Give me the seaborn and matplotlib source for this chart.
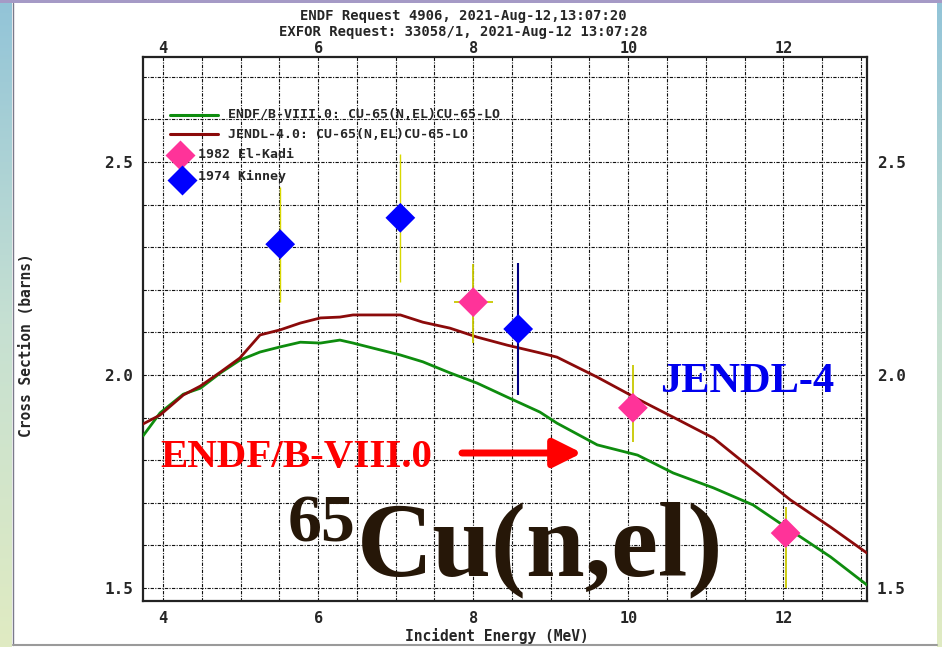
import numpy as np
import pandas as pd
import matplotlib
matplotlib.use("Agg")
import matplotlib.pyplot as plt
import seaborn as sns
from matplotlib.lines import Line2D
from matplotlib.patches import Rectangle
import matplotlib.ticker as mticker

# ---------------- data ----------------
endf_energy = [3.74, 3.96, 4.26, 4.48, 4.74, 4.99, 5.25, 5.51, 5.77, 6.03, 6.28, 6.45, 6.71, 7.06,
               7.35, 7.70, 8.05, 8.44, 8.86, 9.08, 9.60, 10.12, 10.58, 11.10, 11.61, 12.09, 12.61, 13.08]
endf_xs = [1.857, 1.911, 1.955, 1.969, 2.005, 2.035, 2.054, 2.066, 2.077, 2.075, 2.082, 2.075, 2.063, 2.047,
           2.031, 2.005, 1.981, 1.948, 1.913, 1.887, 1.836, 1.812, 1.770, 1.735, 1.695, 1.636, 1.573, 1.507]

jendl_energy = [3.74, 3.96, 4.26, 4.48, 4.74, 4.99, 5.25, 5.51, 5.77, 6.03, 6.28, 6.45, 6.71, 7.06,
                7.35, 7.70, 8.05, 8.44, 8.86, 9.08, 9.60, 10.15, 10.58, 11.10, 11.61, 12.09, 12.61, 13.08]
jendl_xs = [1.885, 1.906, 1.953, 1.974, 2.007, 2.040, 2.094, 2.106, 2.122, 2.134, 2.136, 2.141, 2.141, 2.141,
            2.124, 2.110, 2.089, 2.070, 2.052, 2.042, 1.995, 1.941, 1.901, 1.852, 1.777, 1.707, 1.643, 1.582]

elkadi_energy = [8.00, 10.06, 12.03]
elkadi_xs = [2.171, 1.923, 1.629]
elkadi_err_lo = [0.095, 0.080, 0.130]
elkadi_err_hi = [0.090, 0.100, 0.060]
elkadi_xerr = [0.25, 0.0, 0.0]

kinney_energy = [5.51, 7.06, 8.58]
kinney_xs = [2.307, 2.369, 2.108]
kinney_err = [0.135, 0.150, 0.156]
kinney_err_colors = ["#d8d800", "#d8d800", "#000080"]

x_ticks = [4, 6, 8, 10, 12]
x_tick_labels = ["4", "6", "8", "10", "12"]
y_ticks = [1.5, 2.0, 2.5]
y_tick_labels = ["1.5", "2.0", "2.5"]

series_labels = ["ENDF/B-VIII.0: CU-65(N,EL)CU-65-LO", "JENDL-4.0: CU-65(N,EL)CU-65-LO",
                 "1982 El-Kadi", "1974 Kinney"]
title_lines = ["ENDF Request 4906, 2021-Aug-12,13:07:20", "EXFOR Request: 33058/1, 2021-Aug-12 13:07:28"]

# ---------------- style ----------------
sns.set_style("white")
plt.rcParams["font.family"] = ["DejaVu Sans Mono", "DejaVu Sans"]

W, H = 942, 647
fig = plt.figure(figsize=(W / 100, H / 100), dpi=100)
fig.patch.set_facecolor("white")

def fx(px):
    return px / W

def fy(py):
    return 1 - py / H

# slide-like background decoration
bg = fig.add_axes([0, 0, 1, 1], zorder=-10)
bg.axis("off")
grad = np.linspace(0, 1, 256).reshape(-1, 1)
cmap = matplotlib.colors.LinearSegmentedColormap.from_list("g", ["#92c4d8", "#c6e0d2", "#e0ebc2"])
bg.imshow(grad, extent=[0, 12, H, 0], aspect="auto", cmap=cmap)
bg.imshow(grad, extent=[937, W, H, 0], aspect="auto", cmap=cmap)
bg.add_patch(Rectangle((0, 0), W, 3, color="#a59ac6", lw=0))
bg.plot([12.5, 12.5], [3, 645], color="#7a7a8a", lw=1)
bg.plot([12.5, 937], [645, 645], color="#9a9a9a", lw=1.5)
bg.set_xlim(0, W)
bg.set_ylim(H, 0)

ax = fig.add_axes([fx(143), fy(601), (867 - 143) / W, (601 - 57) / H])

df_endf = pd.DataFrame({"E": endf_energy, "xs": endf_xs})
df_jendl = pd.DataFrame({"E": jendl_energy, "xs": jendl_xs})
df_elk = pd.DataFrame({"E": elkadi_energy, "xs": elkadi_xs})
df_kin = pd.DataFrame({"E": kinney_energy, "xs": kinney_xs})

sns.lineplot(data=df_endf, x="E", y="xs", ax=ax, color="#0e8c0e", lw=2.0, zorder=3, sort=False)
sns.lineplot(data=df_jendl, x="E", y="xs", ax=ax, color="#8b0a0a", lw=2.0, zorder=3, sort=False)

# error bars
ax.errorbar(elkadi_energy, elkadi_xs, yerr=[elkadi_err_lo, elkadi_err_hi], xerr=elkadi_xerr,
            fmt="none", ecolor="#c8c800", elinewidth=1.3, capsize=0, zorder=4)
for e, v, er, c in zip(kinney_energy, kinney_xs, kinney_err, kinney_err_colors):
    ax.errorbar([e], [v], yerr=[er], fmt="none", ecolor=c, elinewidth=1.5 if c == "#000080" else 1.0,
                capsize=0, zorder=4)

sns.scatterplot(data=df_elk, x="E", y="xs", ax=ax, marker="D", s=230, color="#ff3399",
                edgecolor="none", zorder=5)
sns.scatterplot(data=df_kin, x="E", y="xs", ax=ax, marker="D", s=230, color="#0000ff",
                edgecolor="none", zorder=5)

ax.set_xlim(3.74, 13.08)
ax.set_ylim(1.4695, 2.7465)
ax.set_xlabel("")
ax.set_ylabel("")

ax.set_xticks(x_ticks)
ax.set_xticklabels(x_tick_labels)
ax.set_yticks(y_ticks)
ax.set_yticklabels(y_tick_labels)
ax.xaxis.set_minor_locator(mticker.MultipleLocator(0.5))
ax.yaxis.set_minor_locator(mticker.MultipleLocator(0.1))
ax.tick_params(which="both", length=0)
ax.tick_params(axis="x", labelbottom=True, pad=7, labelsize=11)
ax.tick_params(axis="x", labeltop=True)
ax.xaxis.set_tick_params(which="major", pad=7)
ax.tick_params(axis="y", labelleft=True, labelright=True, pad=7, labelsize=11.5)
for lab in ax.get_xticklabels() + ax.get_yticklabels():
    lab.set_fontweight("bold")
# move top labels closer to the frame
for t in ax.xaxis.get_major_ticks():
    t.label2.set_fontweight("bold")
    t.label2.set_fontsize(11)
    t.label2.set_y(1.0)
ax.tick_params(axis="x", which="major", top=True, pad=7)
ax.grid(True, which="both", color="#111111", lw=0.8, ls=(0, (3, 1.2, 1, 1.2)))
ax.set_axisbelow(True)
for sp in ax.spines.values():
    sp.set_visible(True)
    sp.set_color("#222222")
    sp.set_linewidth(1.6)

# titles and axis labels
fig.text(fx(463), fy(16), title_lines[0], ha="center", va="center", fontsize=10, fontweight="bold")
fig.text(fx(463), fy(32), title_lines[1], ha="center", va="center", fontsize=10, fontweight="bold")
fig.text(fx(497), fy(636), "Incident Energy (MeV)", ha="center", va="center", fontsize=10.5, fontweight="bold")
fig.text(fx(27), fy(345), "Cross Section (barns)", ha="center", va="center", rotation=90,
         fontsize=10.5, fontweight="bold")

# manual legend
leg_font = dict(fontsize=9.5, fontweight="bold", va="center", ha="left")
fig.add_artist(Line2D([fx(170), fx(218)], [fy(115), fy(115)], color="#0e8c0e", lw=2.2))
fig.add_artist(Line2D([fx(170), fx(218)], [fy(134), fy(134)], color="#8b0a0a", lw=2.2))
fig.text(fx(228), fy(115), series_labels[0], **leg_font)
fig.text(fx(228), fy(134), series_labels[1], **leg_font)
fig.add_artist(Line2D([fx(180)], [fy(155)], marker="D", ms=15, color="#ff3399", mec="none", lw=0))
fig.add_artist(Line2D([fx(182)], [fy(180)], marker="D", ms=15, color="#0000ff", mec="none", lw=0))
fig.text(fx(198), fy(155), series_labels[2], **leg_font)
fig.text(fx(198), fy(176), series_labels[3], **leg_font)

# annotations
serif = ["Liberation Serif", "DejaVu Serif"]
fig.text(fx(160), fy(467), "ENDF/B-VIII.0", fontsize=29.5, fontweight="bold", family=serif,
         color="#ff0000", va="baseline", ha="left")
fig.text(fx(660), fy(392), "JENDL-4", fontsize=30.5, fontweight="bold", family=serif,
         color="#0000ee", va="baseline", ha="left")
ax.annotate("", xy=(582, H - 453), xytext=(462, H - 453), xycoords="figure pixels",
            textcoords="figure pixels",
            arrowprops=dict(arrowstyle="-|>,head_length=1.0,head_width=0.5", lw=5, color="#ff0000",
                            mutation_scale=17, shrinkA=0, shrinkB=0))
fig.text(fx(288), fy(541), "65", fontsize=49, fontweight="bold", family=serif, color="#261708",
         va="baseline", ha="left")
fig.text(fx(357), fy(575), "Cu(n,el)", fontsize=76, fontweight="bold", family=serif, color="#261708",
         va="baseline", ha="left")

# pull top tick labels down a little so they clear the header text
fig.canvas.draw()
from matplotlib.transforms import ScaledTranslation
for t in ax.xaxis.get_major_ticks():
    t.label2.set_transform(t.label2.get_transform() + ScaledTranslation(0, -6 / 72, fig.dpi_scale_trans))

fig.savefig("out.png", dpi=100, facecolor="white")
